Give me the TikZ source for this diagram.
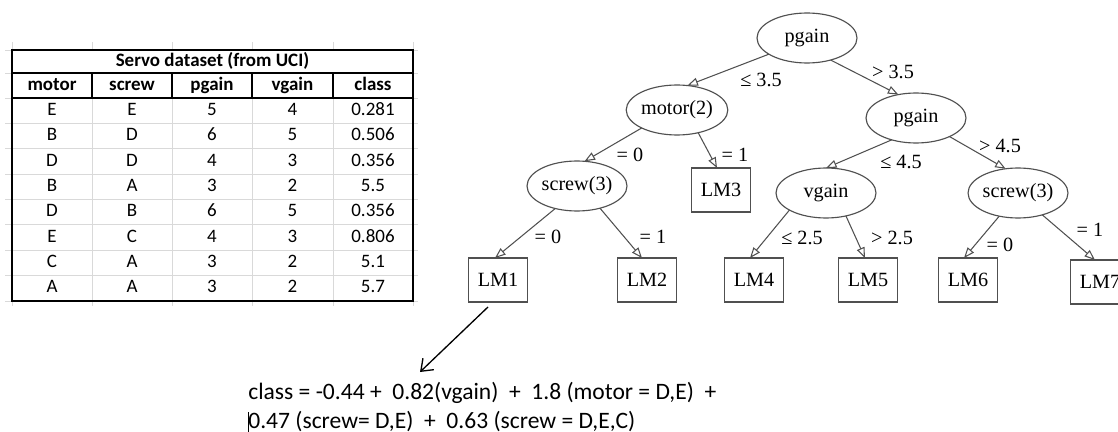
\documentclass[tikz,border=0pt]{standalone}
\usepackage{fontspec}
\setmainfont{Liberation Serif}
\newfontfamily\sheetfont{Carlito}
\usetikzlibrary{shapes.geometric, arrows.meta, positioning}

\definecolor{gridgray}{HTML}{D9D9D9}
\definecolor{treegray}{HTML}{505050}

\begin{document}
\begin{tikzpicture}[
    x=0.02cm, y=-0.02cm,
    split/.style={ellipse, draw=treegray, line width=0.65pt, minimum width=2cm, minimum height=1cm, inner sep=0pt, outer sep=0pt, font=\fontsize{11.5}{13}\selectfont},
    leaf/.style={rectangle, draw=treegray, line width=0.65pt, minimum width=1.18cm, minimum height=0.88cm, inner sep=0pt, outer sep=0pt, font=\fontsize{11.5}{13}\selectfont},
    branch/.style={draw=treegray, line width=0.6pt, -{Triangle[open, length=6pt, width=4.6pt]}},
    lbl/.style={inner sep=0pt, font=\fontsize{11.5}{13}\selectfont},
    cell/.style={inner sep=0pt, text height=7.4pt, text depth=2.2pt, font=\sheetfont\fontsize{10.8}{12}\selectfont},
    head/.style={inner sep=0pt, text height=7.4pt, text depth=2.2pt, font=\sheetfont\bfseries\fontsize{10.8}{12}\selectfont},
]
\useasboundingbox (0,0) rectangle (1118,432);

% spreadsheet gridlines
\foreach \gx in {12,92,172,252,333,413} {
  \draw[gridgray, line width=0.5pt] (\gx,42) -- (\gx,50);
  \draw[gridgray, line width=0.5pt] (\gx,98) -- (\gx,306);
}
\foreach \gy in {50,73,98,123.4,148.8,174.1,199.5,224.9,250.3,275.6,301} {
  \draw[gridgray, line width=0.5pt] (5,\gy) -- (418,\gy);
}

% table borders
\draw[line width=0.9pt] (12,50) rectangle (413,301);
\draw[line width=0.7pt] (12,73) -- (413,73);
\draw[line width=0.7pt] (12,98) -- (413,98);
\foreach \gx in {92,172,252,333} {
  \draw[line width=0.7pt] (\gx,73) -- (\gx,98);
}

% table text
\node[head] (title) at (212.5,61.5) {Servo dataset (from UCI)};
\node[head] (h-motor) at (52,86) {motor};
\node[head] (h-screw) at (132,86) {screw};
\node[head] (h-pgain) at (212,86) {pgain};
\node[head] (h-vgain) at (292.5,86) {vgain};
\node[head] (h-class) at (373,86) {class};
\foreach \m/\s/\p/\v/\c [count=\r] in {E/E/5/4/0.281, B/D/6/5/0.506, D/D/4/3/0.356, B/A/3/2/5.5, D/B/6/5/0.356, E/C/4/3/0.806, C/A/3/2/5.1, A/A/3/2/5.7} {
  \pgfmathsetmacro\ry{98+(\r-0.5)*25.375}
  \node[cell] (motor-\r) at (52,\ry) {\m};
  \node[cell] (screw-\r) at (132,\ry) {\s};
  \node[cell] (pgain-\r) at (212,\ry) {\p};
  \node[cell] (vgain-\r) at (292.5,\ry) {\v};
  \node[cell] (class-\r) at (373,\ry) {\c};
}

% model tree
\node[split] (root) at (807,38) {pgain};
\node[split] (motor) at (677,110) {motor(2)};
\node[split] (pgain2) at (916,118) {pgain};
\node[split] (screwL) at (577,186) {screw(3)};
\node[leaf] (lm3) at (721,190) {LM3};
\node[split] (vgain) at (826,193) {vgain};
\node[split, minimum width=1.9cm] (screwR) at (1018,193) {screw(3)};
\node[leaf] (lm1) at (498,280) {LM1};
\node[leaf] (lm2) at (647,280) {LM2};
\node[leaf] (lm4) at (754,280) {LM4};
\node[leaf] (lm5) at (868,280) {LM5};
\node[leaf] (lm6) at (968,280) {LM6};
\node[leaf] (lm7) at (1100,282) {LM7};

\draw[branch] (root.203) -- (motor.67);
\draw[branch] (root.317) -- (pgain2.127);
\draw[branch] (motor.207) -- (screwL.73);
\draw[branch] (motor.313) -- ([xshift=-0.08cm]lm3.north);
\draw[branch] (screwL.226) -- ([xshift=-0.06cm]lm1.north);
\draw[branch] (screwL.316) -- ([xshift=-0.1cm]lm2.north);
\draw[branch] (pgain2.222) -- (vgain.north);
\draw[branch] (pgain2.331) -- (screwR.117);
\draw[branch] (vgain.205) -- ([xshift=-0.08cm]lm4.north);
\draw[branch] (vgain.311) -- ([xshift=-0.06cm]lm5.north);
\draw[branch] (screwR.231) -- ([xshift=-0.08cm]lm6.north);
\draw[branch] (screwR.318) -- ([xshift=-0.1cm]lm7.north);

% branch labels
\node[lbl] (c-root-le) at (761,80) {≤ 3.5};
\node[lbl] (c-root-gt) at (893,72) {> 3.5};
\node[lbl] (c-motor-0) at (630,155) {= 0};
\node[lbl] (c-motor-1) at (735,155) {= 1};
\node[lbl] (c-screwL-0) at (548,237) {= 0};
\node[lbl] (c-screwL-1) at (653,237) {= 1};
\node[lbl] (c-pgain-le) at (901,162) {≤ 4.5};
\node[lbl] (c-pgain-gt) at (1000,146) {> 4.5};
\node[lbl] (c-vgain-le) at (802,238) {≤ 2.5};
\node[lbl] (c-vgain-gt) at (892,238) {> 2.5};
\node[lbl] (c-screwR-0) at (1000,245) {= 0};
\node[lbl] (c-screwR-1) at (1090,230) {= 1};

% linear model of LM1
\node[anchor=west, align=left, inner sep=0pt, font=\sheetfont\fontsize{13.4}{16.2}\selectfont] (formula) at (248,408)
  {class = -0.44 +~ 0.82(vgain) ~+~ 1.8 (motor = D,E) ~+\\
   \rlap{\rule[-3pt]{0.6pt}{12.5pt}}0.47 (screw= D,E) ~+~ 0.63 (screw = D,E,C)};
\coordinate (eqtip) at (420,372);
\draw[line width=0.75pt, -{Straight Barb[length=6pt, width=9pt]}] ([xshift=-0.2cm, yshift=-0.1cm]lm1.south) -- (eqtip);

\end{tikzpicture}
\end{document}
